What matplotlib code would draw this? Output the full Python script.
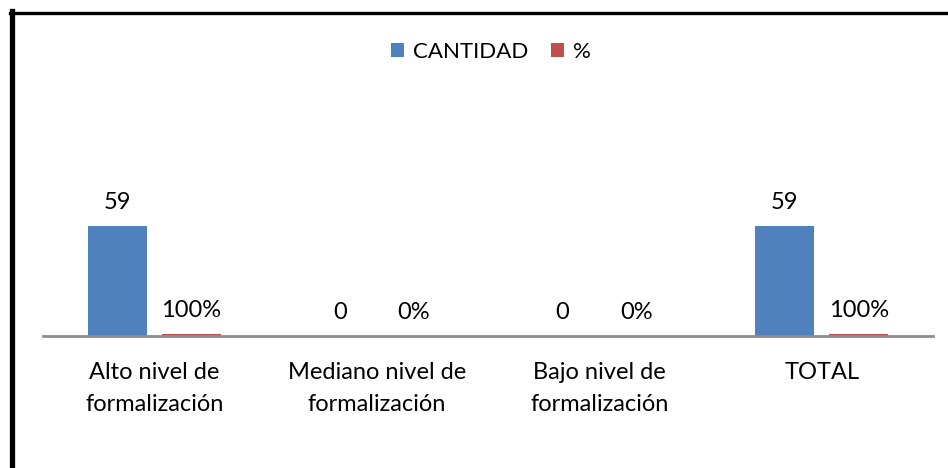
import numpy as np
import matplotlib
matplotlib.use('Agg')
import matplotlib.pyplot as plt
from matplotlib.lines import Line2D
from matplotlib.patches import Patch

plt.rcParams['font.family'] = ['Lato', 'DejaVu Sans']

categories = ['Alto nivel de\nformalización', 'Mediano nivel de\nformalización',
              'Bajo nivel de\nformalización', 'TOTAL']
cantidad = [59, 0, 0, 59]
porcentaje = [1.0, 0.0, 0.0, 1.0]
cantidad_labels = ['59', '0', '0', '59']
porcentaje_labels = ['100%', '0%', '0%', '100%']

blue = '#4F81BD'
red = '#C0504D'

W, H = 948, 468
fig = plt.figure(figsize=(W / 100, H / 100), dpi=100)

# plot area in pixels: x 43..933, baseline at y=336
left, right, base, top = 43, 933, 336, 90
ax = fig.add_axes([left / W, 1 - base / H, (right - left) / W, (base - top) / H])
px_per_unit = 110 / 59
ax.set_ylim(0, (base - top) / px_per_unit)
ax.set_xlim(-0.5, len(categories) - 0.5)

x = np.arange(len(categories))
slot = (right - left) / len(categories)
bw = 59 / slot
gap = 15 / slot
off = (bw + gap) / 2

ax.bar(x - off, cantidad, width=bw, color=blue)
ax.bar(x + off, porcentaje, width=bw, color=red)

for i in range(len(categories)):
    ax.text(x[i] - off, cantidad[i] + 7, cantidad_labels[i], ha='center', va='bottom',
            fontsize=17)
    ax.text(x[i] + off, porcentaje[i] + 7, porcentaje_labels[i], ha='center', va='bottom',
            fontsize=17)

for s in ['left', 'right', 'top']:
    ax.spines[s].set_visible(False)
ax.spines['bottom'].set_color('#8C8C8C')
ax.spines['bottom'].set_linewidth(2)
ax.set_yticks([])
ax.set_xticks(x)
ax.set_xticklabels(categories, fontsize=17, linespacing=1.65)
ax.tick_params(axis='x', length=0, pad=19)

handles = [Patch(facecolor=blue, label='CANTIDAD'), Patch(facecolor=red, label='%')]
fig.legend(handles=handles, loc='center', bbox_to_anchor=(491 / W, 1 - 52 / H), ncol=2,
           frameon=False, fontsize=16, handlelength=0.6, handleheight=0.6,
           handletextpad=0.4, columnspacing=1.0)

# frame around the chart (left and top edges)
fig.add_artist(Line2D([11.5 / W, 11.5 / W], [0, 1 - 11 / H], color='black', lw=3.8,
                      transform=fig.transFigure))
fig.add_artist(Line2D([9.5 / W, 1], [1 - 12.5 / H, 1 - 12.5 / H], color='black', lw=2.4,
                      transform=fig.transFigure))

fig.savefig('out.png', dpi=100)
